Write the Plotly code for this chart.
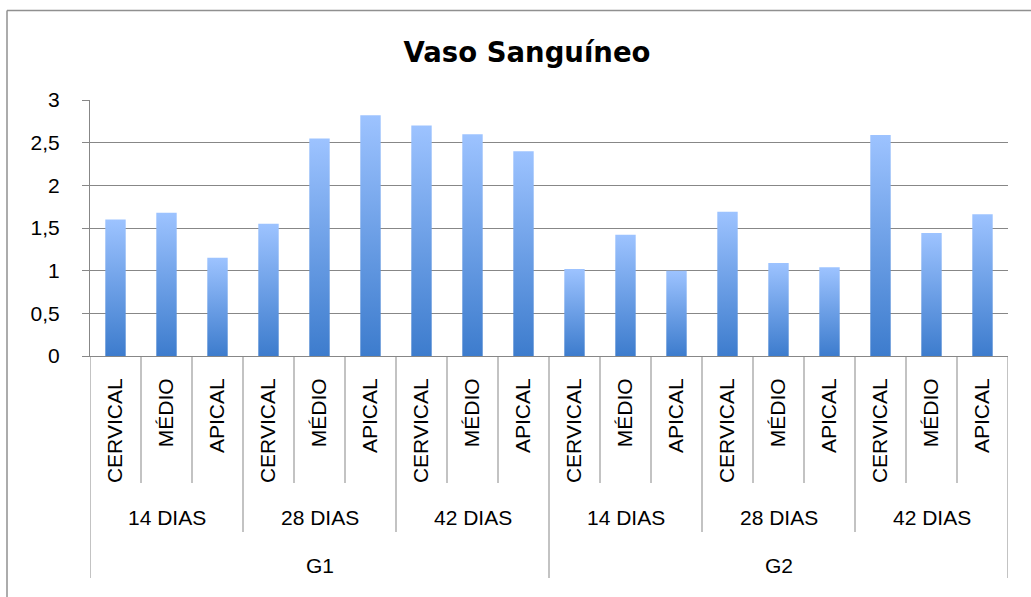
import plotly.graph_objects as go

# ---- data ----
groups = ["G1", "G2"]
periods = ["14 DIAS", "28 DIAS", "42 DIAS"]
regions = ["CERVICAL", "MÉDIO", "APICAL"]
g1_values = [1.6, 1.68, 1.15, 1.55, 2.55, 2.82, 2.7, 2.6, 2.4]
g2_values = [1.02, 1.42, 1.0, 1.69, 1.09, 1.04, 2.59, 1.44, 1.66]
title_text = "Vaso Sanguíneo"
y_ticks = [0, 0.5, 1, 1.5, 2, 2.5, 3]

values = g1_values + g2_values
n = len(values)
cat_labels = regions * (len(groups) * len(periods))

GRAY = "#878787"
FONT = "Liberation Sans, Arial, sans-serif"
W, H = 1031, 597
L, R, T, B = 90, 23, 100, 241
plot_h = H - T - B
plot_w = W - L - R

def py(px):  # pixel y -> paper y
    return (H - B - px) / plot_h

def pxx(px):  # pixel x -> paper x
    return (px - L) / plot_w

fig = go.Figure()
half = 0.2
for i, v in enumerate(values):
    fig.add_trace(go.Scatter(
        x=[i - half, i - half, i + half, i + half, i - half],
        y=[0, v, v, 0, 0],
        mode="lines", fill="toself",
        line=dict(width=0, color="rgba(0,0,0,0)"),
        fillgradient=dict(type="vertical",
                          colorscale=[[0, "#3d7ccd"], [0.5, "#6c9fe6"], [1, "#9dc3ff"]],
                          start=0, stop=v),
        showlegend=False, hoverinfo="text",
        text=f"{cat_labels[i]}: {v}",
    ))

shapes = []
# category dividers
for k in range(n + 1):
    b = k - 0.5
    if k % 9 == 0:
        yb = py(578)
    elif k % 3 == 0:
        yb = py(532)
    else:
        yb = py(483)
    shapes.append(dict(type="line", xref="x", yref="paper", x0=b, x1=b, y0=0, y1=yb,
                       line=dict(color=GRAY, width=1)))
# outer border (top + left)
shapes.append(dict(type="line", xref="paper", yref="paper", x0=pxx(7), x1=pxx(1040),
                   y0=py(10.5), y1=py(10.5), line=dict(color="#909090", width=1.5)))
shapes.append(dict(type="line", xref="paper", yref="paper", x0=pxx(7), x1=pxx(7),
                   y0=py(10.5), y1=py(610), line=dict(color="#909090", width=1.5)))

annotations = []
for gi, g in enumerate(groups):
    for pi, p in enumerate(periods):
        c = gi * 9 + pi * 3 + 1
        annotations.append(dict(x=c, y=py(517), xref="x", yref="paper", text=p,
                                showarrow=False, font=dict(size=21, color="black", family=FONT),
                                xanchor="center", yanchor="middle"))
    annotations.append(dict(x=gi * 9 + 4, y=py(565), xref="x", yref="paper", text=g,
                            showarrow=False, font=dict(size=21, color="black", family=FONT),
                            xanchor="center", yanchor="middle"))

fig.update_layout(
    width=W, height=H,
    margin=dict(l=L, r=R, t=T, b=B),
    paper_bgcolor="white", plot_bgcolor="white",
    separators=", ",
    title=dict(text=f"<b>{title_text}</b>", x=527 / W, xref="container", xanchor="center",
               y=1 - 52 / H, yref="container", yanchor="middle",
               font=dict(family="DejaVu Sans", size=27.5, color="black")),
    shapes=shapes, annotations=annotations,
    xaxis=dict(range=[-0.5, n - 0.5], tickmode="array", tickvals=list(range(n)),
               ticktext=cat_labels, tickangle=-90, showgrid=False, zeroline=False,
               showline=True, linecolor=GRAY, linewidth=1, ticks="",
               tickfont=dict(family=FONT, size=21, color="black"),
               ticklabelstandoff=13, fixedrange=True),
    yaxis=dict(range=[0, 3], tickmode="array", tickvals=y_ticks, showgrid=True,
               gridcolor=GRAY, gridwidth=1, zeroline=False, showline=True,
               linecolor=GRAY, linewidth=1, ticks="outside", ticklen=7, tickcolor=GRAY,
               tickfont=dict(family=FONT, size=21, color="black"),
               ticklabelstandoff=18, fixedrange=True),
)

fig.write_html("out.html", config={"displayModeBar": False},
               post_script="document.body.style.margin='0';")
